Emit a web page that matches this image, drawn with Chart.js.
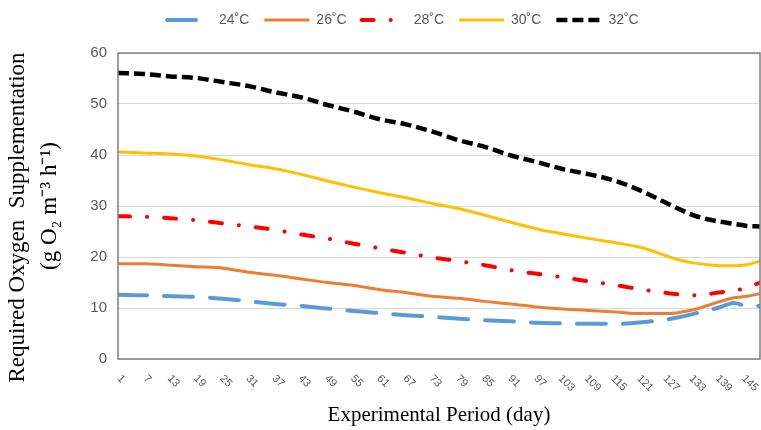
<!DOCTYPE html>
<html>
<head>
<meta charset="utf-8">
<script src="https://cdn.jsdelivr.net/npm/chart.js@4/dist/chart.umd.min.js"></script>
<style>
html,body{margin:0;padding:0;background:#ffffff;}
#wrap{width:761px;height:430px;}
</style>
</head>
<body>
<div id="wrap"><canvas id="c" width="761" height="430"></canvas></div>
<script>
// ---- data ----
const days = [1,7,13,19,25,31,37,43,49,55,61,67,73,79,85,91,97,103,109,115,121,127,130,133,136,139,142,145,148];
const t24 = [12.6,12.5,12.3,12.2,11.8,11.3,10.8,10.4,9.9,9.4,9.0,8.6,8.3,7.9,7.6,7.4,7.1,7.0,6.9,6.9,7.2,7.8,8.3,8.9,9.5,10.2,11.0,10.4,10.4];
const t26 = [18.7,18.7,18.4,18.1,17.8,17.0,16.4,15.7,15.0,14.4,13.6,13.0,12.3,11.9,11.3,10.8,10.2,9.8,9.5,9.2,8.9,8.9,9.2,9.7,10.5,11.3,12.0,12.3,12.8];
const t28 = [28.0,27.9,27.6,27.2,26.6,26.0,25.3,24.4,23.6,22.6,21.7,20.8,19.9,19.2,18.4,17.4,16.7,16.0,15.2,14.5,13.6,12.9,12.6,12.5,12.7,13.1,13.4,14.0,15.0];
const t30 = [40.6,40.4,40.2,39.8,39.0,38.1,37.3,36.2,34.9,33.7,32.6,31.6,30.5,29.5,28.2,26.8,25.5,24.5,23.6,22.8,21.8,20.1,19.3,18.8,18.5,18.3,18.3,18.5,19.2];
const t32 = [56.1,55.9,55.4,55.1,54.3,53.5,52.3,51.3,49.8,48.5,47.0,46.0,44.6,42.9,41.6,39.9,38.6,37.2,36.2,34.9,32.9,30.4,29.2,28.1,27.4,26.9,26.5,26.1,26.0];
const seriesNames = ['24˚C','26˚C','28˚C','30˚C','32˚C'];
const xTickLabels = [1,7,13,19,25,31,37,43,49,55,61,67,73,79,85,91,97,103,109,115,121,127,133,139,145];
const yTickValues = [0,10,20,30,40,50,60];
const xTitle = 'Experimental Period (day)';
const yTitle = ['Required Oxygen  Supplementation\u00A0\u00A0\u00A0\u00A0', '(g O₂ m⁻³ h⁻¹)'];

const toPts = arr => arr.map((v, i) => ({x: days[i], y: v}));
const LEGEND_START = 167;

const helperPlugin = {
  id: 'helper',
  afterInit(chart) {
    const lg = chart.legend;
    if (lg) {
      const orig = lg.fit;
      lg.fit = function () { orig.call(this); this.height = 55; };
    }
  },
  beforeDraw(chart) {
    const lg = chart.legend;
    if (lg && lg.lineWidths) {
      const pad = lg.options.labels.padding;
      lg.lineWidths[0] = lg.left + pad + lg.right - 2 * LEGEND_START;
    }
  },
  afterDraw(chart) {
    const ctx = chart.ctx;
    const a = chart.chartArea;
    const xs = chart.scales.x;
    ctx.save();
    ctx.strokeStyle = '#7f7f7f';
    ctx.lineWidth = 1.5;
    ctx.strokeRect(a.left, a.top, a.right - a.left, a.bottom - a.top);
    ctx.font = '11px "Liberation Sans", Arial, sans-serif';
    ctx.fillStyle = '#595959';
    ctx.textAlign = 'center';
    ctx.textBaseline = 'middle';
    xTickLabels.forEach(d => {
      const s = String(d);
      const px = xs.getPixelForValue(d);
      const L = ctx.measureText(s).width;
      const cx = px + 3;
      const cy = a.bottom + 15 + 0.7071 * (L + 8) / 2;
      ctx.save();
      ctx.translate(cx, cy);
      ctx.rotate(Math.PI / 4);
      ctx.fillText(s, 0, 0);
      ctx.restore();
    });
    ctx.restore();
  }
};

const common = {pointRadius: 0, pointHoverRadius: 0, fill: false, cubicInterpolationMode: 'monotone'};

new Chart(document.getElementById('c'), {
  type: 'line',
  data: {
    datasets: [
      Object.assign({label: seriesNames[0], data: toPts(t24), borderColor: '#5B9BD5', backgroundColor: '#5B9BD5', borderWidth: 4, borderDash: [29, 17], borderCapStyle: 'round'}, common),
      Object.assign({label: seriesNames[1], data: toPts(t26), borderColor: '#ED7D31', backgroundColor: '#ED7D31', borderWidth: 3}, common),
      Object.assign({label: seriesNames[2], data: toPts(t28), borderColor: '#FF0000', backgroundColor: '#FF0000', borderWidth: 4, borderDash: [12, 17, 0.1, 17], borderCapStyle: 'round'}, common),
      Object.assign({label: seriesNames[3], data: toPts(t30), borderColor: '#FFC000', backgroundColor: '#FFC000', borderWidth: 3}, common),
      Object.assign({label: seriesNames[4], data: toPts(t32), borderColor: '#000000', backgroundColor: '#000000', borderWidth: 4.5, borderDash: [11, 5]}, common)
    ]
  },
  options: {
    responsive: false,
    devicePixelRatio: 1,
    animation: false,
    events: [],
    layout: {padding: {top: -2, right: 1, left: 0, bottom: 0}},
    plugins: {
      legend: {
        display: true,
        position: 'top',
        labels: {
          usePointStyle: true,
          pointStyle: 'line',
          pointStyleWidth: 45,
          padding: 15,
          color: '#595959',
          font: {family: '"Liberation Sans", Arial, sans-serif', size: 14},
          generateLabels: chart => {
            const items = Chart.defaults.plugins.legend.labels.generateLabels(chart);
            return items.map(it => {
              const ds = chart.data.datasets[it.datasetIndex];
              it.lineDash = ds.borderDash || [];
              it.lineWidth = ds.borderWidth;
              it.lineCap = ds.borderCapStyle || 'butt';
              it.strokeStyle = ds.borderColor;
              it.fillStyle = ds.borderColor;
              it.pointStyle = 'line';
              return it;
            });
          }
        }
      },
      tooltip: {enabled: false}
    },
    scales: {
      x: {
        type: 'linear',
        min: 1,
        max: 148,
        grid: {display: false},
        border: {display: false},
        ticks: {display: false},
        afterBuildTicks: s => { s.ticks = xTickLabels.map(v => ({value: v})); },
        afterFit: s => { s.height = 71; },
        title: {
          display: true,
          text: xTitle,
          color: '#000000',
          font: {family: '"Liberation Serif", "Times New Roman", serif', size: 21, lineHeight: 1.2},
          padding: {top: 0, bottom: 2}
        }
      },
      y: {
        min: 0,
        max: 60,
        grid: {color: '#d9d9d9', lineWidth: 1, drawTicks: false},
        border: {display: false},
        afterBuildTicks: s => { s.ticks = yTickValues.map(v => ({value: v})); },
        ticks: {
          padding: 11,
          color: '#595959',
          font: {family: '"Liberation Sans", Arial, sans-serif', size: 15}
        },
        afterFit: s => { s.width = 118; },
        title: {
          display: true,
          text: yTitle,
          color: '#000000',
          font: {family: '"Liberation Serif", "Times New Roman", serif', size: 23, lineHeight: 1.39},
          padding: {top: 2, bottom: 0}
        }
      }
    }
  },
  plugins: [helperPlugin]
});
</script>
</body>
</html>
